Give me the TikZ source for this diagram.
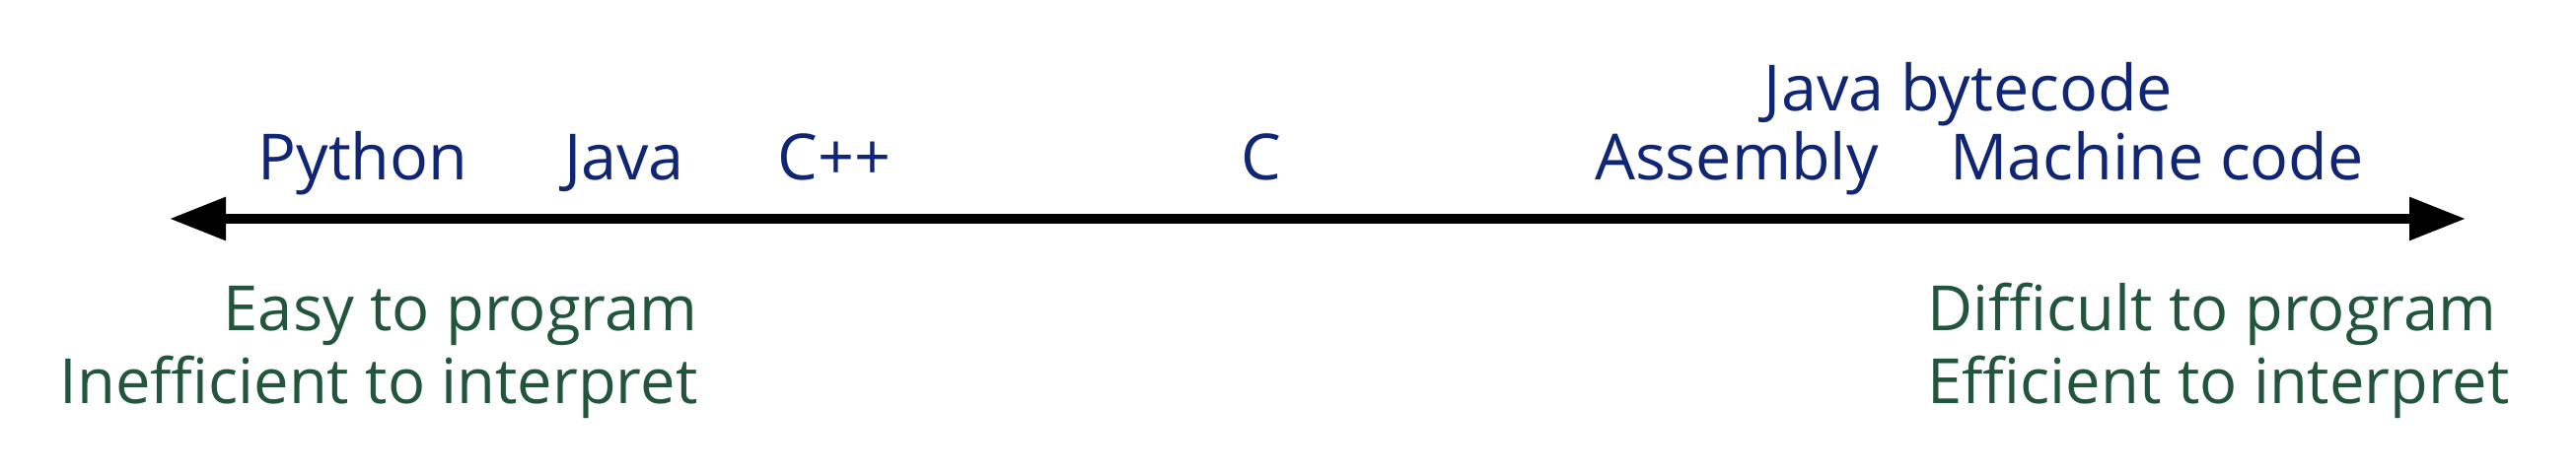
\documentclass[tikz,border=0pt]{standalone}
\usepackage{fontspec}
\setmainfont{Open Sans}
\usepackage{xcolor}
\usetikzlibrary{arrows.meta}
\definecolor{langBlue}{RGB}{16, 38, 117}
\definecolor{tradeGreen}{RGB}{34, 85, 60}
\tikzset{
  langlabel/.style={text=langBlue, anchor=base, inner sep=0pt, font=\fontsize{18.4}{22}\selectfont},
  tradelabel/.style={text=tradeGreen, inner sep=0pt, font=\fontsize{18}{22}\selectfont}
}

\begin{document}
\begin{tikzpicture}
                \useasboundingbox (0,0) rectangle (26.12,4.83);
                \coordinate (easyEnd) at (1.72,2.61);
                \coordinate (hardEnd) at (25.00,2.61);
                \draw[{Triangle[length=5.7mm,width=4.2mm]}-{Triangle[length=5.7mm,width=4.2mm]}, line width=2.6pt] (easyEnd) -- (hardEnd);
                \node[langlabel] (python) at (3.68,3.00) {Python};
                \node[langlabel] (java) at (6.33,3.00) {Java};
                \node[langlabel] (cpp) at (8.46,3.00) {C++};
                \node[langlabel] (clang) at (12.79,3.00) {C};
                \node[langlabel] (asm) at (17.61,3.00) {Assembly};
                \node[langlabel] (machine) at (21.87,3.00) {Machine code};
                \node[langlabel] (bytecode) at (19.96,3.70) {Java bytecode};
                \node[tradelabel, anchor=base east] (easyProg) at (7.08,1.47) {Easy to program};
                \node[tradelabel, anchor=base east] (slowRun) at (7.08,0.73) {Inefficient to interpret};
                \node[tradelabel, anchor=base west] (hardProg) at (19.54,1.47) {Difficult to program};
                \node[tradelabel, anchor=base west] (fastRun) at (19.54,0.73) {Efficient to interpret};
            \end{tikzpicture}
\end{document}
